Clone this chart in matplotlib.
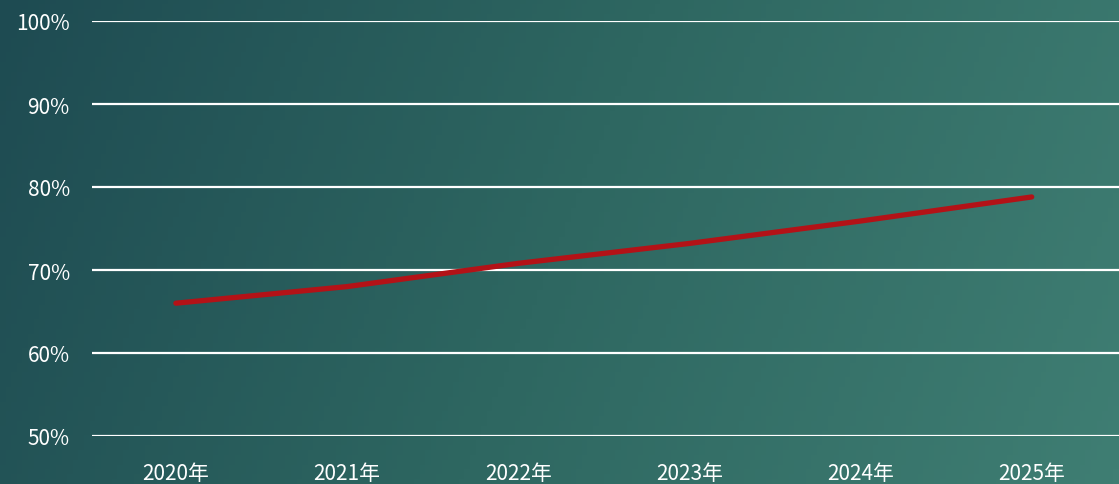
import numpy as np
import matplotlib
matplotlib.use("Agg")
import matplotlib.pyplot as plt
from matplotlib.colors import LinearSegmentedColormap

plt.rcParams['font.family'] = ['Noto Sans CJK SC', 'DejaVu Sans']

categories = ['2020年', '2021年', '2022年', '2023年', '2024年', '2025年']
values = [66.0, 68.0, 70.8, 73.2, 75.9, 78.8]
yticks = [50, 60, 70, 80, 90, 100]
ytick_labels = ['50%', '60%', '70%', '80%', '90%', '100%']

W, H = 1119, 485
fig = plt.figure(figsize=(W / 100, H / 100), dpi=100)

# gradient background
bg = fig.add_axes([0, 0, 1, 1], zorder=0)
bg.axis('off')
nx, ny = 200, 100
xx, yy = np.meshgrid(np.linspace(0, 1, nx), np.linspace(0, 1, ny))
t = np.clip(0.85 * xx + 0.15 * yy, 0, 1)
cmap = LinearSegmentedColormap.from_list('bg', ['#1e4b52', '#2e6761', '#3f7e73'])
bg.imshow(t, cmap=cmap, aspect='auto', extent=[0, 1, 0, 1], origin='upper')
bg.set_xlim(0, 1)
bg.set_ylim(0, 1)

ax = fig.add_axes([92 / W, 1 - 437 / H, 1 - 92 / W, (437 - 22) / H], zorder=1)
ax.patch.set_alpha(0)
x = np.arange(len(categories))
ax.set_xlim(-0.49, 5.51)
ax.set_ylim(50, 100)
ax.set_yticks(yticks)
ax.set_yticklabels(ytick_labels)
ax.set_xticks(x)
ax.set_xticklabels(categories)
for s in ax.spines.values():
    s.set_visible(False)
ax.tick_params(axis='both', length=0, colors='white', labelsize=15)
ax.tick_params(axis='y', pad=16)
ax.tick_params(axis='x', pad=19)
for lab in ax.get_xticklabels() + ax.get_yticklabels():
    lab.set_fontweight('light')
ax.grid(axis='y', color='white', linewidth=1.6)
ax.set_axisbelow(True)
ax.plot(x, values, color='#b31217', linewidth=3.8, solid_capstyle='round', solid_joinstyle='round', zorder=3)

fig.savefig('out.png', dpi=100)
